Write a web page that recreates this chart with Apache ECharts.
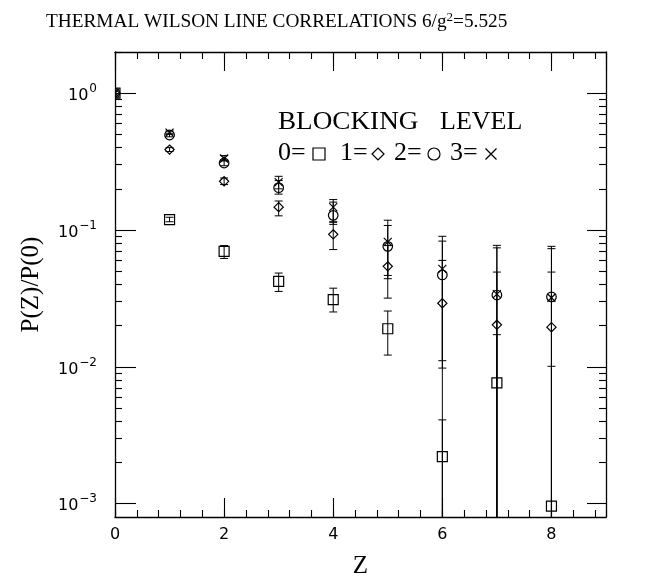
<!DOCTYPE html>
<html>
<head>
<meta charset="utf-8">
<script src="https://cdn.jsdelivr.net/npm/echarts@6/dist/echarts.min.js"></script>
<style>
  html, body { margin: 0; padding: 0; background: #fff; }
  #chart { width: 663px; height: 578px; }
</style>
</head>
<body>
<div id="chart"></div>
<script>
// separation Z
const zValues = [0, 1, 2, 3, 4, 5, 6, 7, 8]

// blocking level 0 (square)
const level0 = [1, 0.119, 0.0698, 0.0421, 0.031, 0.019, 0.00221, 0.00765, 0.00096]
const level0Lo = [1, 0.115, 0.062, 0.0356, 0.0252, 0.0122, 0.0001, 0.0001, 0.0001]
const level0Hi = [1, 0.124, 0.077, 0.0485, 0.0376, 0.0256, 0.0041, 0.0172, 0.0101]

// blocking level 1 (diamond)
const level1 = [1, 0.387, 0.227, 0.147, 0.093, 0.0543, 0.0292, 0.0203, 0.0195]
const level1Lo = [1, 0.375, 0.215, 0.127, 0.072, 0.0318, 0.0001, 0.0001, 0.0001]
const level1Hi = [1, 0.4, 0.24, 0.163, 0.114, 0.077, 0.06, 0.0493, 0.0493]

// blocking level 2 (circle)
const level2 = [1, 0.495, 0.309, 0.204, 0.128, 0.076, 0.047, 0.0335, 0.0325]
const level2Lo = [1, 0.48, 0.295, 0.183, 0.11, 0.0441, 0.0111, 0.0001, 0.0001]
const level2Hi = [1, 0.51, 0.325, 0.23, 0.16, 0.108, 0.083, 0.0741, 0.0731]

// blocking level 3 (cross)
const level3 = [1, 0.515, 0.333, 0.224, 0.147, 0.082, 0.052, 0.034, 0.032]
const level3Lo = [1, 0.5, 0.32, 0.2, 0.115, 0.0466, 0.0098, 0.0001, 0.0001]
const level3Hi = [1, 0.53, 0.35, 0.247, 0.167, 0.118, 0.09, 0.0773, 0.076]

// axis ticks
const yMajorTicks = [0.001, 0.01, 0.1, 1]
const yMinorTicks = []
yMajorTicks.forEach((d) => {
  for (let k = 2; k <= 9; k++) yMinorTicks.push(+(d * k).toPrecision(3))
})

const chartInstance = echarts.init(document.getElementById('chart'))

const ink = '#000'
const serif = '"Liberation Serif", "DejaVu Serif", serif'
const sans = '"DejaVu Sans", sans-serif'

function pack(vals, lo, hi) {
  return zValues.map((z, i) => [z, vals[i], lo[i], hi[i]])
}

const markStyle = { stroke: ink, lineWidth: 1.2, fill: 'none' }

// marker outlines, centred on (x, y), half-size r
const shapes = {
  square: (x, y, r) => ({ type: 'rect', shape: { x: x - r, y: y - r, width: 2 * r, height: 2 * r }, style: markStyle }),
  diamond: (x, y, r) => ({
    type: 'polygon',
    shape: { points: [[x, y - r], [x + r, y], [x, y + r], [x - r, y]] },
    style: markStyle,
  }),
  circle: (x, y, r) => ({ type: 'circle', shape: { cx: x, cy: y, r }, style: markStyle }),
  cross: (x, y, r) => ({
    type: 'group',
    children: [
      { type: 'line', shape: { x1: x - r, y1: y - r, x2: x + r, y2: y + r }, style: markStyle },
      { type: 'line', shape: { x1: x - r, y1: y + r, x2: x + r, y2: y - r }, style: markStyle },
    ],
  }),
}
const markSize = { square: 5, diamond: 4.6, circle: 4.8, cross: 4 }

function makeRender(shape) {
  return function (params, api) {
    const z = api.value(0)
    const c = api.coord([z, api.value(1)])
    const lo = api.coord([z, api.value(2)])
    const hi = api.coord([z, api.value(3)])
    const bar = { stroke: ink, lineWidth: 1, fill: 'none' }
    const kids = []
    if (lo[1] - hi[1] > 1) {
      kids.push({ type: 'line', shape: { x1: c[0], y1: lo[1], x2: c[0], y2: hi[1] }, style: bar })
      kids.push({ type: 'line', shape: { x1: c[0] - 4, y1: lo[1], x2: c[0] + 4, y2: lo[1] }, style: bar })
      kids.push({ type: 'line', shape: { x1: c[0] - 4, y1: hi[1], x2: c[0] + 4, y2: hi[1] }, style: bar })
    }
    kids.push(shapes[shape](c[0], c[1], markSize[shape]))
    return { type: 'group', children: kids }
  }
}

function levelSeries(name, shape, data) {
  return {
    name,
    type: 'custom',
    xAxisIndex: 0,
    yAxisIndex: 0,
    clip: true,
    silent: true,
    encode: { x: 0, y: 1 },
    renderItem: makeRender(shape),
    data,
  }
}

const axisLine = { show: true, onZero: false, lineStyle: { color: ink, width: 1.3 } }
const tickStyle = { color: ink, width: 1.1 }

function xAxisOf(position, interval, len, withLabels) {
  return {
    type: 'value',
    position,
    min: 0,
    max: 9,
    interval,
    axisLine: withLabels !== undefined ? axisLine : { show: false, onZero: false },
    axisTick: { show: true, inside: true, length: len, lineStyle: tickStyle },
    axisLabel: withLabels
      ? { show: true, color: ink, fontFamily: sans, fontSize: 16, margin: 10, showMaxLabel: false }
      : { show: false },
    splitLine: { show: false },
  }
}

function yAxisOf(position, ticks, len, withLabels) {
  return {
    type: 'log',
    position,
    min: 0.0008,
    max: 2,
    axisLine: withLabels !== undefined ? axisLine : { show: false, onZero: false },
    axisTick: { show: true, inside: true, length: len, customValues: ticks, lineStyle: tickStyle },
    axisLabel: withLabels
      ? {
          show: true,
          customValues: ticks,
          margin: 18,
          formatter: (v) => '{b|10}{s|' + String(Math.round(Math.log10(v))).replace('-', '\u2212') + '}',
          rich: {
            b: { fontFamily: sans, fontSize: 16, color: ink, verticalAlign: 'bottom' },
            s: { fontFamily: sans, fontSize: 12, color: ink, verticalAlign: 'bottom', padding: [0, 0, 9, 1] },
          },
        }
      : { show: false },
    splitLine: { show: false },
  }
}

const xMain = xAxisOf('bottom', 2, 19, true)
xMain.name = 'Z'
xMain.nameLocation = 'middle'
xMain.nameGap = 37
xMain.nameTextStyle = { fontFamily: serif, fontSize: 25, color: ink }

const yMain = yAxisOf('left', yMajorTicks, 21, true)
yMain.name = 'P(Z)/P(0)'
yMain.nameLocation = 'middle'
yMain.nameRotate = 90
yMain.nameGap = 71
yMain.nameTextStyle = { fontFamily: serif, fontSize: 25, color: ink }

// legend block: text pieces and their marker shapes
const legendText = (text, left, top, sx) => ({
  type: 'text',
  left,
  top,
  scaleX: sx || 1,
  style: { text, fontFamily: serif, fontSize: 26, fill: ink },
})
const legendMark = (shape, x) => {
  const g = shapes[shape](0, 0, shape === 'cross' ? 5.5 : 6)
  g.x = x
  g.y = 154
  return g
}

chartInstance.setOption({
  backgroundColor: '#fff',
  animation: false,
  title: {
    text: 'THERMAL WILSON LINE CORRELATIONS 6/g{s|2}=5.525',
    left: 41,
    top: 6,
    textStyle: {
      fontFamily: serif,
      fontSize: 19.3,
      fontWeight: 'normal',
      color: ink,
      rich: { s: { fontFamily: serif, fontSize: 13, color: ink, verticalAlign: 'bottom', padding: [0, 0, 9, 0] } },
    },
  },
  grid: { left: 115, right: 57, top: 52, bottom: 61, outerBoundsMode: 'none' },
  xAxis: [
    xMain,
    xAxisOf('bottom', 0.4, 7),
    xAxisOf('top', 2, 19, false),
    xAxisOf('top', 0.4, 7),
  ],
  yAxis: [
    yMain,
    yAxisOf('left', yMinorTicks, 7),
    yAxisOf('right', yMajorTicks, 19, false),
    yAxisOf('right', yMinorTicks, 7),
  ],
  graphic: [
    legendText('BLOCKING', 278, 109, 1.045),
    legendText('LEVEL', 440, 109),
    legendText('0=', 278, 140),
    legendText('1=', 340, 140),
    legendText('2=', 394, 140),
    legendText('3=', 450, 140),
    legendMark('square', 319),
    legendMark('diamond', 378),
    legendMark('circle', 434),
    legendMark('cross', 491),
  ],
  series: [
    levelSeries('0', 'square', pack(level0, level0Lo, level0Hi)),
    levelSeries('1', 'diamond', pack(level1, level1Lo, level1Hi)),
    levelSeries('2', 'circle', pack(level2, level2Lo, level2Hi)),
    levelSeries('3', 'cross', pack(level3, level3Lo, level3Hi)),
  ],
})
</script>
</body>
</html>
